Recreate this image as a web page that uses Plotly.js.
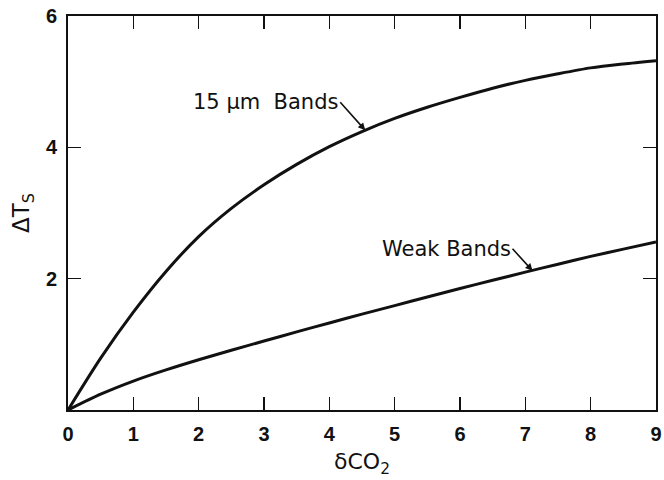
<!DOCTYPE html>
<html>
<head>
<meta charset="utf-8">
<script src="https://cdn.plot.ly/plotly-3.0.1.min.js"></script>
<style>
  html, body { margin: 0; padding: 0; background: #fff; }
  #chart { width: 664px; height: 480px; }
</style>
</head>
<body>
<div id="chart"></div>
<script>
// Surface temperature change versus CO2 increase, two band groups
const co2 = [0, 0.5, 1, 1.5, 2, 2.5, 3, 3.5, 4, 4.5, 5, 5.5, 6, 6.5, 7, 7.5, 8, 8.5, 9];
const bands15um = [0, 0.79, 1.49, 2.11, 2.64, 3.07, 3.43, 3.74, 4.01, 4.24, 4.44, 4.61, 4.76, 4.90, 5.02, 5.12, 5.21, 5.27, 5.32];
const weakBands = [0, 0.24, 0.44, 0.61, 0.765, 0.91, 1.05, 1.19, 1.325, 1.46, 1.59, 1.72, 1.85, 1.975, 2.10, 2.22, 2.34, 2.45, 2.56];

const xTicks = [0, 1, 2, 3, 4, 5, 6, 7, 8, 9];
const yTicks = [2, 4, 6];

const labelFont = { family: 'DejaVu Sans, sans-serif', size: 21, color: '#111' };

const traces = [
  { x: co2, y: bands15um, mode: 'lines', line: { color: '#111', width: 3, shape: 'spline', smoothing: 0.8 }, hoverinfo: 'skip' },
  { x: co2, y: weakBands, mode: 'lines', line: { color: '#111', width: 3, shape: 'spline', smoothing: 0.8 }, hoverinfo: 'skip' }
];

const axisCommon = {
  showline: true, linecolor: '#111', linewidth: 2, mirror: 'ticks',
  ticks: 'inside', ticklen: 13, tickwidth: 1.5, tickcolor: '#111',
  showgrid: false, zeroline: false,
  ticklabeloverflow: 'allow',
  ticklabelstandoff: 5,
  tickfont: { family: 'Liberation Sans, Arial, sans-serif', size: 20, color: '#111', weight: 'bold' }
};

// Curve labels with leader arrows pointing at the curves
const arrowStyle = { showarrow: true, arrowhead: 2, arrowsize: 0.9, arrowwidth: 1.6, arrowcolor: '#111',
  xanchor: 'right', yanchor: 'middle', font: labelFont, xref: 'x', yref: 'y' };

const layout = {
  width: 664, height: 480,
  margin: { l: 68, r: 8, t: 16, b: 70 },
  paper_bgcolor: '#fff', plot_bgcolor: '#fff',
  showlegend: false,
  xaxis: Object.assign({}, axisCommon, {
    range: [0, 9], tickvals: xTicks, ticktext: xTicks.map(String),
    title: { text: 'δCO<sub>2</sub>', font: { family: 'DejaVu Sans, sans-serif', size: 22, color: '#111' }, standoff: 10 }
  }),
  yaxis: Object.assign({}, axisCommon, {
    range: [0, 6], tickvals: yTicks, ticktext: yTicks.map(String),
    title: { text: 'ΔT<sub>S</sub>', font: { family: 'DejaVu Sans, sans-serif', size: 23, color: '#111' }, standoff: 10 }
  }),
  annotations: [
    Object.assign({ x: 4.55, y: 4.26, text: '15 μm  Bands', ax: -25, ay: -28 }, arrowStyle),
    Object.assign({ x: 7.11, y: 2.12, text: 'Weak Bands', ax: -20, ay: -22 }, arrowStyle)
  ]
};

Plotly.newPlot('chart', traces, layout, { displayModeBar: false, staticPlot: true });
</script>
</body>
</html>
